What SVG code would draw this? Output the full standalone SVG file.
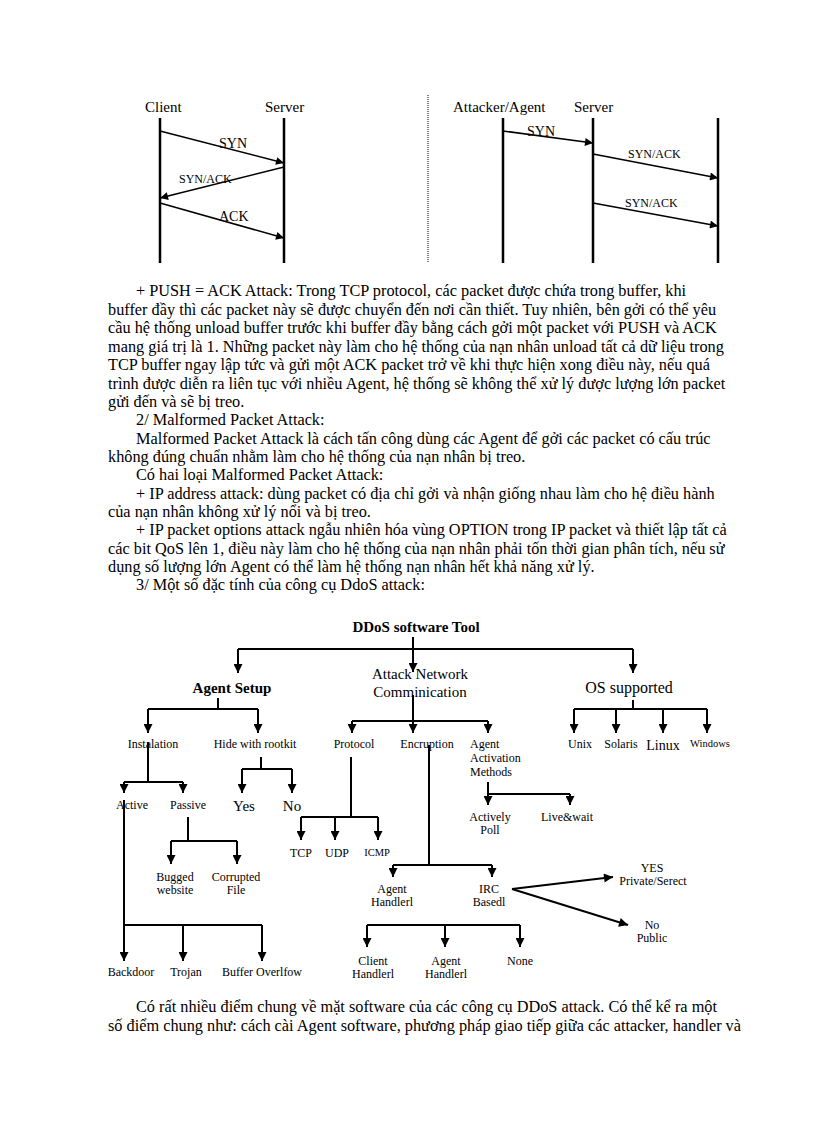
<svg xmlns="http://www.w3.org/2000/svg" width="816" height="1123" viewBox="0 0 816 1123">
<style>
text{font-family:"Liberation Serif","Times New Roman",serif;fill:#000}
.p{font-size:16.3px}
.t{font-size:12px;text-anchor:middle}
.s{font-size:15px}
.c{stroke:#000;stroke-width:2;fill:none}
.sq{stroke:#000;stroke-width:1.6;fill:none}
.life{stroke:#000;stroke-width:2.5;fill:none}
</style>
<defs>
<marker id="ah" viewBox="0 0 10 10" refX="10" refY="5" markerWidth="10" markerHeight="9" markerUnits="userSpaceOnUse" orient="auto"><path d="M0,0 L10,5 L0,10 z" fill="#000"/></marker>
<marker id="as" viewBox="0 0 10 10" refX="10" refY="5" markerWidth="10" markerHeight="8" markerUnits="userSpaceOnUse" orient="auto"><path d="M0,0 L10,5 L0,10 z" fill="#000"/></marker>
</defs>
<rect width="816" height="1123" fill="#fff"/>

<!-- Sequence diagrams -->
<g id="seq-left">
<text class="s" x="145" y="112">Client</text>
<text class="s" x="265" y="112">Server</text>
<path class="life" d="M160,118 V263 M284,118 V263"/>
</g>
<path d="M428,95 V263" stroke="#555" stroke-width="1.5" stroke-dasharray="1,1" fill="none"/>
<g id="seq-right">
<text class="s" x="453" y="112">Attacker/Agent</text>
<text class="s" x="574" y="112">Server</text>
<path class="life" d="M503,118 V263 M593,118 V263 M718,118 V263"/>
</g>
<g id="seq-messages">
<path class="sq" d="M160,131 L284,163" marker-end="url(#as)"/>
<path class="sq" d="M284,167 L160,198" marker-end="url(#as)"/>
<path class="sq" d="M160,203 L284,238" marker-end="url(#as)"/>
<path class="sq" d="M503,131 L593,143" marker-end="url(#as)"/>
<path class="sq" d="M593,154 L718,178" marker-end="url(#as)"/>
<path class="sq" d="M593,203 L718,226" marker-end="url(#as)"/>
<text x="219" y="148" font-size="14">SYN</text>
<text x="179" y="183" font-size="12">SYN/ACK</text>
<text x="219" y="221" font-size="14">ACK</text>
<text x="527" y="136" font-size="14">SYN</text>
<text x="628" y="158" font-size="12">SYN/ACK</text>
<text x="625" y="207" font-size="12">SYN/ACK</text>
</g>

<!-- Body text -->
<g id="body-text">
<text class="p" x="136" y="296">+ PUSH = ACK Attack: Trong TCP protocol, các packet được chứa trong buffer, khi</text>
<text class="p" x="108" y="315">buffer đầy thì các packet này sẽ được chuyển đến nơi cần thiết. Tuy nhiên, bên gởi có thể yêu</text>
<text class="p" x="108" y="333">cầu hệ thống unload buffer trước khi buffer đầy bằng cách gởi một packet với PUSH và ACK</text>
<text class="p" x="108" y="352">mang giá trị là 1. Những packet này làm cho hệ thống của nạn nhân unload tất cả dữ liệu trong</text>
<text class="p" x="108" y="370">TCP buffer ngay lập tức và gửi một ACK packet trở về khi thực hiện xong điều này, nếu quá</text>
<text class="p" x="108" y="389">trình được diễn ra liên tục với nhiều Agent, hệ thống sẽ không thể xử lý được lượng lớn packet</text>
<text class="p" x="108" y="407">gửi đến và sẽ bị treo.</text>
<text class="p" x="136" y="425">2/ Malformed Packet Attack:</text>
<text class="p" x="136" y="444">Malformed Packet Attack là cách tấn công dùng các Agent để gởi các packet có cấu trúc</text>
<text class="p" x="108" y="462">không đúng chuẩn nhằm làm cho hệ thống của nạn nhân bị treo.</text>
<text class="p" x="136" y="480">Có hai loại Malformed Packet Attack:</text>
<text class="p" x="136" y="499">+ IP address attack: dùng packet có địa chỉ gởi và nhận giống nhau làm cho hệ điều hành</text>
<text class="p" x="108" y="517">của nạn nhân không xử lý nổi và bị treo.</text>
<text class="p" x="136" y="535">+ IP packet options attack ngẫu nhiên hóa vùng OPTION trong IP packet và thiết lập tất cả</text>
<text class="p" x="108" y="554">các bit QoS lên 1, điều này làm cho hệ thống của nạn nhân phải tốn thời gian phân tích, nếu sử</text>
<text class="p" x="108" y="572">dụng số lượng lớn Agent có thể làm hệ thống nạn nhân hết khả năng xử lý.</text>
<text class="p" x="136" y="590">3/ Một số đặc tính của công cụ DdoS attack:</text>
<text class="p" x="136" y="1012">Có rất nhiều điểm chung về mặt software của các công cụ DDoS attack. Có thể kể ra một</text>
<text class="p" x="108" y="1031">số điểm chung như: cách cài Agent software, phương pháp giao tiếp giữa các attacker, handler và</text>
</g>

<!-- Tree connectors -->
<g id="connectors">
<path class="c" d="M413,637 V672" marker-end="url(#ah)"/>
<path class="c" d="M238,649 H633"/>
<path class="c" d="M238,649 V673" marker-end="url(#ah)"/>
<path class="c" d="M633,649 V673" marker-end="url(#ah)"/>

<path class="c" d="M218,698 V709 M148,709 H258"/>
<path class="c" d="M148,709 V733" marker-end="url(#ah)"/>
<path class="c" d="M258,709 V733" marker-end="url(#ah)"/>

<path class="c" d="M148,742 V782 M124,782 H183"/>
<path class="c" d="M124,782 V793" marker-end="url(#ah)"/>
<path class="c" d="M183,782 V793" marker-end="url(#ah)"/>

<path class="c" d="M261,757 V769 M242,769 H292"/>
<path class="c" d="M242,769 V793" marker-end="url(#ah)"/>
<path class="c" d="M292,769 V793" marker-end="url(#ah)"/>

<path class="c" d="M124,800 V961" marker-end="url(#ah)"/>
<path class="c" d="M124,925 H262"/>
<path class="c" d="M183,925 V961" marker-end="url(#ah)"/>
<path class="c" d="M262,925 V961" marker-end="url(#ah)"/>

<path class="c" d="M188,817 V841 M171,841 H237"/>
<path class="c" d="M171,841 V864" marker-end="url(#ah)"/>
<path class="c" d="M237,841 V864" marker-end="url(#ah)"/>

<path class="c" d="M413,695 V733" marker-end="url(#ah)"/>
<path class="c" d="M352,721 H488"/>
<path class="c" d="M352,721 V733" marker-end="url(#ah)"/>
<path class="c" d="M488,721 V733" marker-end="url(#ah)"/>

<path class="c" d="M351,757 V817 M301,817 H378"/>
<path class="c" d="M301,817 V840" marker-end="url(#ah)"/>
<path class="c" d="M335,817 V840" marker-end="url(#ah)"/>
<path class="c" d="M378,817 V840" marker-end="url(#ah)"/>

<path class="c" d="M429,745 V865 M393,865 H492"/>
<path class="c" d="M393,865 V877" marker-end="url(#ah)"/>
<path class="c" d="M492,865 V877" marker-end="url(#ah)"/>

<path class="c" d="M488,782 V805" marker-end="url(#ah)"/>
<path class="c" d="M488,794 H570"/>
<path class="c" d="M570,794 V805" marker-end="url(#ah)"/>

<path class="c" d="M633,700 V709 M574,709 H707"/>
<path class="c" d="M574,709 V733" marker-end="url(#ah)"/>
<path class="c" d="M616,709 V733" marker-end="url(#ah)"/>
<path class="c" d="M663,709 V733" marker-end="url(#ah)"/>
<path class="c" d="M707,709 V733" marker-end="url(#ah)"/>

<path class="c" d="M512,889 L613,877" marker-end="url(#ah)"/>
<path class="c" d="M512,889 L628,925" marker-end="url(#ah)"/>

<path class="c" d="M367,925 H520"/>
<path class="c" d="M367,925 V947" marker-end="url(#ah)"/>
<path class="c" d="M445,925 V947" marker-end="url(#ah)"/>
<path class="c" d="M520,925 V947" marker-end="url(#ah)"/>
</g>

<!-- Tree nodes -->
<g id="n-root"><text x="416" y="632" font-size="15" font-weight="bold" text-anchor="middle">DDoS software Tool</text></g>
<g id="n-agent-setup"><text x="232" y="693" font-size="15" font-weight="bold" text-anchor="middle">Agent Setup</text></g>
<g id="n-attack-network"><text x="420" y="679" font-size="15" text-anchor="middle">Attack Network</text><text x="420" y="697" font-size="15" text-anchor="middle">Comminication</text></g>
<g id="n-os"><text x="629" y="693" font-size="16" text-anchor="middle">OS supported</text></g>
<g id="n-instalation"><text class="t" x="153" y="748">Instalation</text></g>
<g id="n-hide"><text class="t" x="255" y="748">Hide with rootkit</text></g>
<g id="n-active"><text class="t" x="132" y="809">Active</text></g>
<g id="n-passive"><text class="t" x="188" y="809">Passive</text></g>
<g id="n-yes"><text x="244" y="811" font-size="15" text-anchor="middle">Yes</text></g>
<g id="n-no"><text x="292" y="811" font-size="15" text-anchor="middle">No</text></g>
<g id="n-bugged"><text class="t" x="175" y="881">Bugged</text><text class="t" x="175" y="894">website</text></g>
<g id="n-corrupted"><text class="t" x="236" y="881">Corrupted</text><text class="t" x="236" y="894">File</text></g>
<g id="n-backdoor"><text class="t" x="131" y="976">Backdoor</text></g>
<g id="n-trojan"><text class="t" x="186" y="976">Trojan</text></g>
<g id="n-buffer"><text class="t" x="262" y="976">Buffer Overlfow</text></g>
<g id="n-protocol"><text class="t" x="354" y="748">Protocol</text></g>
<g id="n-encruption"><text class="t" x="427" y="748">Encruption</text></g>
<g id="n-activation"><text x="470" y="748" font-size="12">Agent</text><text x="470" y="762" font-size="12">Activation</text><text x="470" y="776" font-size="12">Methods</text></g>
<g id="n-tcp"><text class="t" x="301" y="857">TCP</text></g>
<g id="n-udp"><text class="t" x="337" y="857">UDP</text></g>
<g id="n-icmp"><text x="377" y="856" font-size="10.5" text-anchor="middle">ICMP</text></g>
<g id="n-actively"><text class="t" x="490" y="821">Actively</text><text class="t" x="490" y="834">Poll</text></g>
<g id="n-live"><text class="t" x="567" y="821">Live&amp;wait</text></g>
<g id="n-unix"><text class="t" x="580" y="748">Unix</text></g>
<g id="n-solaris"><text class="t" x="621" y="748">Solaris</text></g>
<g id="n-linux"><text x="663" y="750" font-size="14" text-anchor="middle">Linux</text></g>
<g id="n-windows"><text x="710" y="747" font-size="10.5" text-anchor="middle">Windows</text></g>
<g id="n-agent-handler"><text class="t" x="392" y="893">Agent</text><text class="t" x="392" y="906">Handlerl</text></g>
<g id="n-irc"><text class="t" x="489" y="893">IRC</text><text class="t" x="489" y="906">Basedl</text></g>
<g id="n-yes-private"><text class="t" x="652" y="872">YES</text><text class="t" x="653" y="885">Private/Serect</text></g>
<g id="n-no-public"><text class="t" x="652" y="929">No</text><text class="t" x="652" y="942">Public</text></g>
<g id="n-client-handler"><text class="t" x="373" y="965">Client</text><text class="t" x="373" y="978">Handlerl</text></g>
<g id="n-agent-handler2"><text class="t" x="446" y="965">Agent</text><text class="t" x="446" y="978">Handlerl</text></g>
<g id="n-none"><text class="t" x="520" y="965">None</text></g>
</svg>
